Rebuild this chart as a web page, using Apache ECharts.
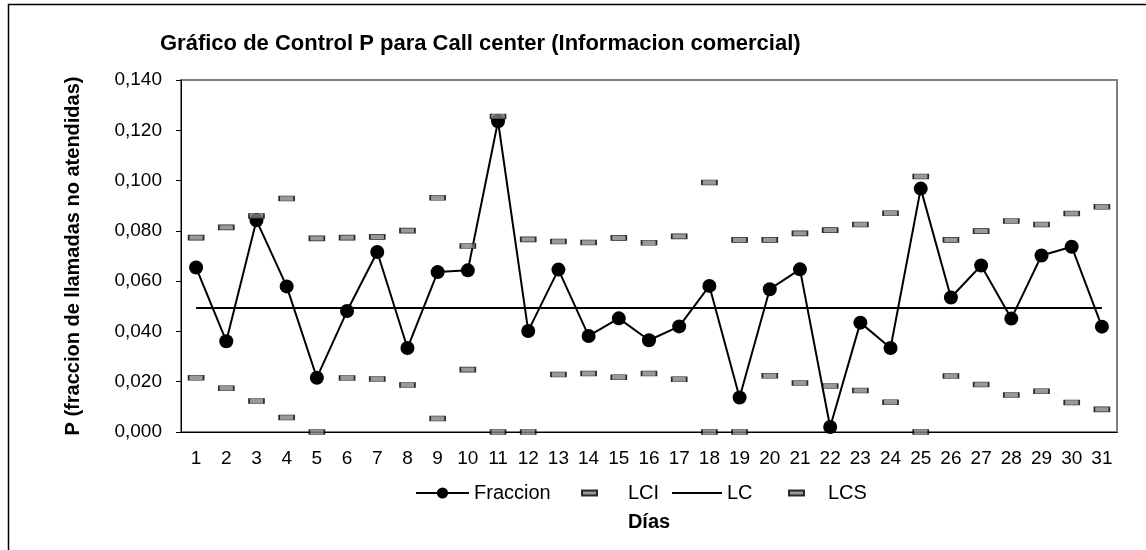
<!DOCTYPE html>
<html>
<head>
<meta charset="utf-8">
<script src="https://cdn.jsdelivr.net/npm/echarts@6/dist/echarts.min.js"></script>
<style>
  html, body { margin: 0; padding: 0; background: #fff; }
  #chart { width: 1146px; height: 550px; }
</style>
</head>
<body>
<div id="chart"></div>
<script>
// dias del mes
var dias = ["1","2","3","4","5","6","7","8","9","10","11","12","13","14","15","16",
  "17","18","19","20","21","22","23","24","25","26","27","28","29","30","31"];

// fraccion de llamadas no atendidas
var fraccion = [0.0654, 0.0361, 0.0842, 0.0579, 0.0216, 0.0481, 0.0716, 0.0334, 0.0636, 0.0643,
  0.1236, 0.0402, 0.0646, 0.0382, 0.0452, 0.0365, 0.0420, 0.0581, 0.0137, 0.0568,
  0.0647, 0.0020, 0.0435, 0.0334, 0.0968, 0.0535, 0.0662, 0.0451, 0.0702, 0.0737, 0.0419];

// limite de control inferior
var lci = [0.0216, 0.0174, 0.0123, 0.0058, 0, 0.0215, 0.0211, 0.0187, 0.0054, 0.0248,
  0, 0, 0.0229, 0.0233, 0.0218, 0.0233, 0.0210, 0, 0, 0.0224,
  0.0195, 0.0183, 0.0165, 0.0118, 0, 0.0223, 0.0189, 0.0147, 0.0162, 0.0117, 0.0090];

// linea central
var lc = [0.0493, 0.0493, 0.0493, 0.0493, 0.0493, 0.0493, 0.0493, 0.0493, 0.0493, 0.0493,
  0.0493, 0.0493, 0.0493, 0.0493, 0.0493, 0.0493, 0.0493, 0.0493, 0.0493, 0.0493,
  0.0493, 0.0493, 0.0493, 0.0493, 0.0493, 0.0493, 0.0493, 0.0493, 0.0493, 0.0493, 0.0493];

// limite de control superior
var lcs = [0.0773, 0.0814, 0.0859, 0.0929, 0.0770, 0.0773, 0.0776, 0.0801, 0.0932, 0.0740,
  0.1255, 0.0766, 0.0758, 0.0754, 0.0772, 0.0753, 0.0778, 0.0992, 0.0764, 0.0764,
  0.0790, 0.0803, 0.0825, 0.0870, 0.1016, 0.0764, 0.0799, 0.0839, 0.0825, 0.0869, 0.0896];

var fuente = "'Liberation Sans', Arial, sans-serif";

var chart = echarts.init(document.getElementById("chart"));

var guion = {
  color: "#808080",
  borderColor: "#000",
  borderWidth: 1
};

var textoLeyenda = { fontFamily: fuente, fontSize: 20, color: "#000" };
var topLeyenda = 483; // el texto manda la altura de cada leyenda

var option = {
  animation: false,
  backgroundColor: "#fff",
  textStyle: { fontFamily: fuente },
  title: {
    text: "Gráfico de Control P para Call center (Informacion comercial)",
    left: 160,
    top: 33,
    padding: 0,
    textStyle: { fontFamily: fuente, fontSize: 22, fontWeight: "bold", color: "#000" }
  },
  // un legend por item para poder ubicar cada uno
  legend: [
    {
      data: ["Fraccion"], left: 415, top: topLeyenda, padding: 0,
      itemWidth: 53, itemHeight: 14,
      textStyle: textoLeyenda
    },
    {
      data: ["LCI"], left: 581, top: topLeyenda, padding: 0,
      itemWidth: 15, itemHeight: 5,
      textStyle: Object.assign({ padding: [0, 0, 0, 26] }, textoLeyenda)
    },
    {
      data: [{ name: "LC", icon: "rect" }], left: 672, top: topLeyenda, padding: 0,
      itemWidth: 50, itemHeight: 2,
      textStyle: textoLeyenda
    },
    {
      data: ["LCS"], left: 788, top: topLeyenda, padding: 0,
      itemWidth: 15, itemHeight: 5,
      textStyle: Object.assign({ padding: [0, 0, 0, 19] }, textoLeyenda)
    }
  ],
  grid: {
    left: 181,
    right: 29,
    top: 80,
    bottom: 118,
    show: true,
    borderColor: "#808080",
    borderWidth: 2
  },
  xAxis: {
    type: "category",
    data: dias,
    name: "Días",
    nameLocation: "middle",
    nameGap: 80,
    nameTextStyle: { fontFamily: fuente, fontSize: 20, fontWeight: "bold", color: "#000" },
    axisLine: { lineStyle: { color: "#000", width: 1 } },
    axisTick: { length: 6, lineStyle: { color: "#000" } },
    axisLabel: { margin: 17, fontSize: 19, color: "#000", fontFamily: fuente, interval: 0 },
    splitLine: { show: false }
  },
  yAxis: {
    type: "value",
    min: 0,
    max: 0.14,
    interval: 0.02,
    name: "P (fraccion de llamadas no atendidas)",
    nameLocation: "middle",
    nameGap: 98,
    nameTextStyle: { fontFamily: fuente, fontSize: 20, fontWeight: "bold", color: "#000" },
    axisLine: { show: true, lineStyle: { color: "#000", width: 1 } },
    axisTick: { show: true, length: 5, lineStyle: { color: "#000" } },
    axisLabel: {
      margin: 19, fontSize: 19, color: "#000", fontFamily: fuente,
      formatter: function (v) { return v.toFixed(3).replace(".", ","); }
    },
    splitLine: { show: false }
  },
  series: [
    {
      name: "Fraccion",
      type: "line",
      data: fraccion,
      symbol: "circle",
      symbolSize: 14,
      z: 3,
      lineStyle: { color: "#000", width: 2 },
      itemStyle: { color: "#000" }
    },
    {
      name: "LCI",
      type: "scatter",
      data: lci,
      symbol: "rect",
      symbolSize: [15, 5],
      z: 4,
      itemStyle: guion
    },
    {
      name: "LC",
      type: "line",
      data: lc,
      symbol: "none",
      z: 2,
      lineStyle: { color: "#000", width: 2 },
      itemStyle: { color: "#000" }
    },
    {
      name: "LCS",
      type: "scatter",
      data: lcs,
      symbol: "rect",
      symbolSize: [15, 5],
      z: 4,
      itemStyle: guion
    }
  ],
  graphic: [
    {
      type: "rect",
      shape: { x: 8.5, y: 4.5, width: 1160, height: 570 },
      style: { fill: null, stroke: "#000", lineWidth: 1.5 },
      silent: true,
      z: -1
    }
  ]
};

chart.setOption(option);
window.onresize = function () {
  chart.resize();
};
</script>
</body>
</html>
